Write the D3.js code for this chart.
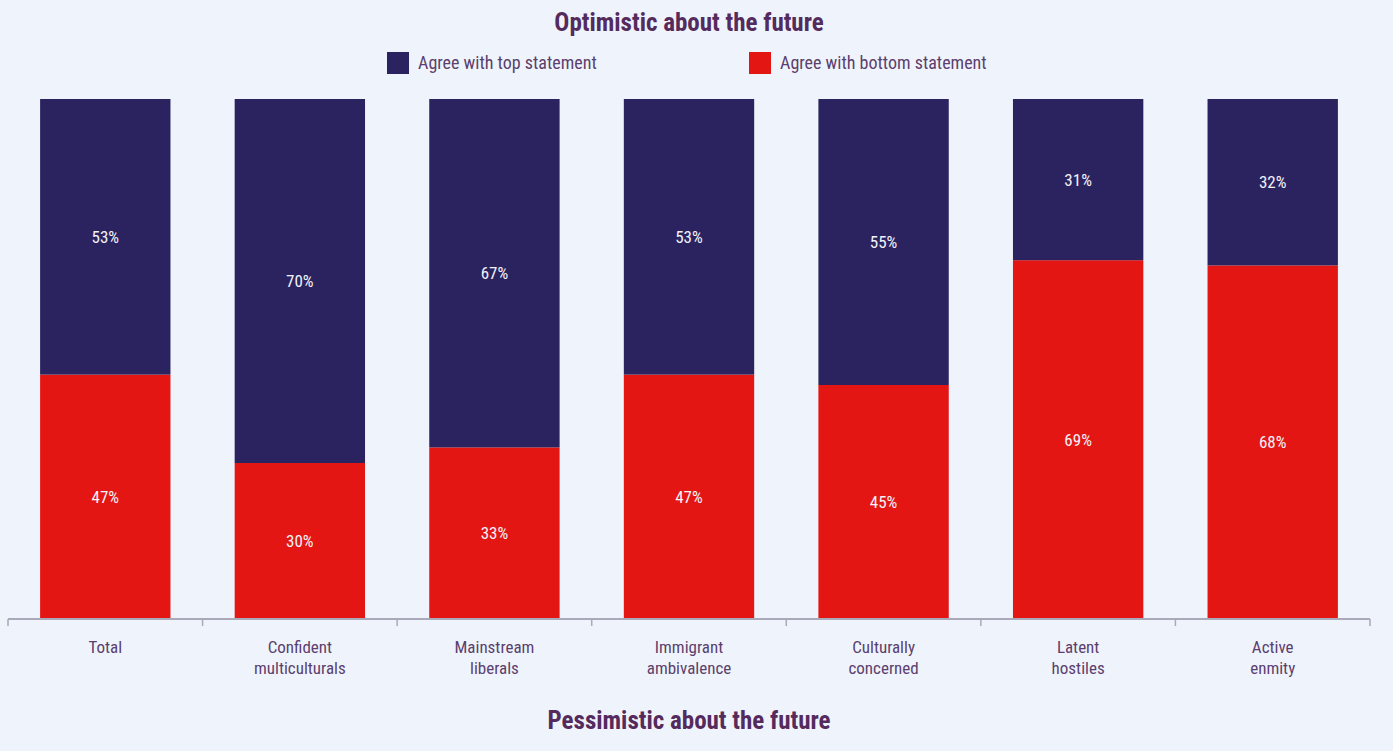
<!DOCTYPE html>
<html>
<head>
<meta charset="utf-8">
<script src="https://cdn.jsdelivr.net/npm/d3@7"></script>
<style>
  html, body { margin: 0; padding: 0; background: #eff4fc; }
  svg { display: block; }
  text { font-family: "Liberation Sans Narrow", "Roboto Condensed", "Arial Narrow", "Liberation Sans", sans-serif; }
</style>
</head>
<body>
<svg id="chart" width="1393" height="751"></svg>
<script>
// Segment labels (two lines where wrapped)
const categories = [
  ["Total"],
  ["Confident", "multiculturals"],
  ["Mainstream", "liberals"],
  ["Immigrant", "ambivalence"],
  ["Culturally", "concerned"],
  ["Latent", "hostiles"],
  ["Active", "enmity"]
];
const topValues = [53, 70, 67, 53, 55, 31, 32];     // Agree with top statement
const bottomValues = [47, 30, 33, 47, 45, 69, 68];  // Agree with bottom statement
const seriesNames = ["Agree with top statement", "Agree with bottom statement"];
const colors = ["#2b2360", "#e31613"];

const svg = d3.select("#chart");
const W = 1393, H = 751;
const margin = { left: 8, right: 23, top: 99, bottom: 132 };
const plotBottom = H - margin.bottom; // 619

const keys = categories.map((c, i) => i);
const x = d3.scaleBand().domain(keys).range([margin.left, W - margin.right]).paddingInner(0.33).paddingOuter(0.165);
const y = d3.scaleLinear().domain([0, 100]).range([plotBottom, margin.top]);

const rows = keys.map(i => ({ i, bottom: bottomValues[i], top: topValues[i] }));
const stack = d3.stack().keys(["bottom", "top"])(rows);
const colorFor = { bottom: colors[1], top: colors[0] };

const layers = svg.append("g").selectAll("g").data(stack).join("g")
  .attr("fill", d => colorFor[d.key]);

layers.selectAll("rect").data(d => d).join("rect")
  .attr("x", d => x(d.data.i))
  .attr("width", x.bandwidth())
  .attr("y", d => y(d[1]))
  .attr("height", d => y(d[0]) - y(d[1]));

layers.selectAll("text").data(d => d).join("text")
  .attr("x", d => x(d.data.i) + x.bandwidth() / 2)
  .attr("y", d => (y(d[0]) + y(d[1])) / 2)
  .attr("dy", "0.35em")
  .attr("text-anchor", "middle")
  .attr("fill", "#f2f2f8")
  .attr("font-size", 17)
  .text(d => (d[1] - d[0]) + "%");

// Category axis with boundary ticks between groups
const step = x.step();
const axisY = plotBottom;
const axis = svg.append("g");
axis.append("line")
  .attr("x1", margin.left).attr("x2", W - margin.right)
  .attr("y1", axisY).attr("y2", axisY)
  .attr("stroke", "#a9a9ba").attr("stroke-width", 2);
const bounds = d3.range(categories.length + 1).map(k => margin.left + k * step);
axis.selectAll("line.tick").data(bounds).join("line")
  .attr("class", "tick")
  .attr("x1", d => d).attr("x2", d => d)
  .attr("y1", axisY).attr("y2", axisY + 7)
  .attr("stroke", "#a9a9ba").attr("stroke-width", 1.5);

axis.selectAll("text").data(keys).join("text")
  .attr("x", i => x(i) + x.bandwidth() / 2)
  .attr("y", 653)
  .attr("text-anchor", "middle")
  .attr("fill", "#5b3f6e")
  .attr("font-size", 17)
  .selectAll("tspan").data(i => categories[i]).join("tspan")
  .attr("x", function () { return this.parentNode.getAttribute("x"); })
  .attr("dy", (d, j) => j === 0 ? 0 : 21)
  .text(d => d);

// Titles
svg.append("text")
  .attr("x", 689).attr("y", 31)
  .attr("text-anchor", "middle")
  .attr("fill", "#552a5c")
  .attr("font-size", 25).attr("font-weight", "bold")
  .text("Optimistic about the future");

svg.append("text")
  .attr("x", 689).attr("y", 729)
  .attr("text-anchor", "middle")
  .attr("fill", "#552a5c")
  .attr("font-size", 25).attr("font-weight", "bold")
  .text("Pessimistic about the future");

// Legend
const legendPos = [387, 749];
const legend = svg.append("g").selectAll("g").data(seriesNames).join("g")
  .attr("transform", (d, i) => `translate(${legendPos[i]},52)`);
legend.append("rect")
  .attr("width", 22).attr("height", 22)
  .attr("fill", (d, i) => colors[i]);
legend.append("text")
  .attr("x", 31).attr("y", 11).attr("dy", "0.35em")
  .attr("fill", "#5b3f6e")
  .attr("font-size", 18)
  .text(d => d);
</script>
</body>
</html>
